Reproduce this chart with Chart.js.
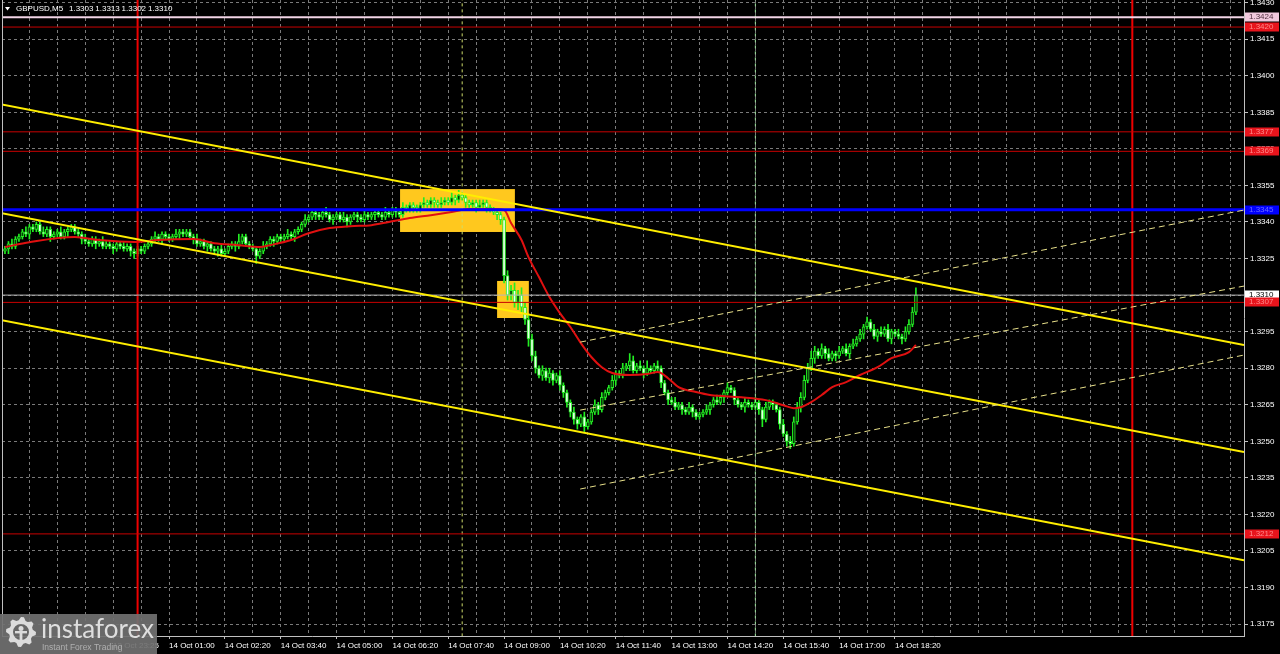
<!DOCTYPE html>
<html>
<head>
<meta charset="utf-8">
<script src="https://cdn.jsdelivr.net/npm/chart.js@4.4.1/dist/chart.umd.min.js"></script>
<style>
  html, body { margin: 0; padding: 0; background: #000; }
  #wrap { width: 1280px; height: 654px; }
</style>
</head>
<body>
<div id="wrap"><canvas id="chart" width="1280" height="654"></canvas></div>
<script>
// Symbol header
const symbolName = "GBPUSD,M5";
const lastBarOHLC = ["1.3303", "1.3313", "1.3302", "1.3310"];

// Candles: prices are pips above 1.3200, one entry per M5 bar
const basePrice = 1.32;
const firstOpen = 128;
const closes = [
  129, 131, 130, 133, 134, 136, 135, 138, 137, 139,
  136, 135, 137, 134, 135, 136, 134, 136, 137, 138,
  136, 135, 133, 132, 131, 133, 131, 132, 130, 131,
  130, 129, 131, 130, 129, 130, 128, 127, 129, 128,
  130, 131, 133, 134, 133, 135, 134, 133, 134, 135,
  136, 135, 136, 134, 133, 131, 132, 130, 131, 129,
  128, 129, 127, 128, 130, 131, 130, 132, 134, 131,
  130, 129, 126, 128, 130, 131, 133, 132, 134, 133,
  134, 135, 134, 136, 137, 139, 141, 142, 144, 143,
  142, 144, 143, 141, 142, 143, 141, 142, 140, 142,
  143, 142, 141, 143, 142, 143, 144, 143, 142, 144,
  143, 145, 144, 143, 146, 145, 147, 146, 145, 147,
  148, 147, 149, 148, 147, 148, 149, 148, 150, 149,
  151, 150, 148, 147, 148, 146, 147, 148, 146, 145,
  144, 143, 141, 118, 110, 112, 107, 110, 105, 100,
  92, 85, 80, 77, 79, 76, 78, 75, 77, 73,
  70, 66, 62, 59, 57, 60, 56, 58, 62, 65,
  63, 68, 70, 72, 75, 78, 77, 80, 81, 83,
  79, 81, 80, 78, 80, 79, 81, 80, 74, 70,
  67, 66, 64, 65, 63, 62, 64, 62, 60, 61,
  62, 63, 65, 67, 66, 68, 70, 72, 71, 67,
  65, 64, 66, 65, 64, 66, 63, 59, 64, 66,
  65, 63, 57, 53, 50, 49, 58, 64, 68, 75,
  80, 84, 87, 85, 88, 86, 84, 86, 85, 87,
  88, 86, 89, 90, 92, 94, 97, 99, 96, 93,
  95, 94, 96, 92, 95, 94, 93, 92, 95, 98,
  103, 110
];
const wickUp = [
  1, 1, 2, 1, 1, 1, 2, 1, 1, 1,
  1, 2, 1, 1, 1, 1, 2, 1, 1, 1,
  1, 1, 1, 2, 1, 1, 1, 1, 2, 1,
  1, 1, 1, 1, 2, 1, 1, 1, 1, 1,
  1, 1, 1, 2, 1, 1, 1, 1, 1, 2,
  1, 1, 1, 1, 1, 2, 1, 1, 1, 1,
  1, 1, 2, 1, 1, 1, 1, 3, 1, 1,
  1, 1, 1, 1, 2, 1, 1, 1, 1, 1,
  1, 2, 1, 1, 1, 1, 2, 1, 1, 1,
  1, 1, 2, 1, 1, 1, 1, 2, 1, 1,
  1, 1, 1, 2, 1, 1, 1, 1, 1, 2,
  1, 1, 1, 1, 2, 1, 1, 1, 1, 1,
  2, 1, 1, 1, 1, 2, 1, 1, 2, 1,
  2, 1, 1, 1, 1, 1, 2, 1, 1, 1,
  1, 1, 1, 1, 2, 2, 3, 2, 3, 2,
  2, 2, 2, 1, 2, 1, 2, 1, 1, 2,
  1, 1, 1, 2, 1, 1, 2, 1, 1, 2,
  1, 2, 1, 1, 2, 1, 1, 2, 1, 3,
  2, 1, 2, 1, 3, 1, 1, 2, 1, 1,
  1, 1, 2, 1, 1, 1, 2, 1, 1, 1,
  1, 2, 1, 1, 2, 1, 1, 2, 1, 1,
  1, 1, 2, 1, 1, 2, 1, 1, 2, 1,
  1, 1, 1, 2, 1, 2, 2, 2, 2, 2,
  2, 3, 2, 1, 2, 1, 2, 1, 1, 2,
  1, 2, 1, 2, 1, 2, 1, 2, 1, 2,
  1, 2, 1, 2, 1, 1, 2, 1, 2, 2,
  2, 3
];
const wickDn = [
  1, 2, 1, 1, 1, 1, 1, 2, 1, 1,
  1, 1, 1, 2, 1, 1, 1, 1, 2, 1,
  1, 1, 2, 1, 1, 1, 2, 1, 1, 1,
  1, 2, 1, 1, 1, 1, 2, 2, 1, 1,
  1, 1, 1, 1, 1, 2, 1, 1, 1, 1,
  2, 1, 1, 1, 2, 1, 1, 1, 2, 1,
  1, 2, 1, 1, 1, 1, 2, 1, 1, 1,
  1, 1, 3, 1, 1, 1, 1, 2, 1, 1,
  1, 1, 1, 2, 1, 1, 1, 1, 1, 2,
  1, 1, 1, 1, 2, 1, 1, 1, 2, 1,
  1, 2, 1, 1, 1, 1, 2, 1, 1, 1,
  1, 1, 2, 1, 1, 1, 1, 2, 1, 1,
  1, 1, 1, 2, 1, 1, 1, 1, 1, 2,
  1, 1, 2, 1, 1, 2, 1, 1, 2, 1,
  1, 2, 2, 3, 2, 2, 2, 3, 2, 2,
  3, 2, 2, 1, 2, 1, 2, 2, 1, 2,
  2, 2, 2, 2, 2, 1, 2, 1, 1, 1,
  2, 1, 1, 1, 1, 2, 1, 1, 1, 2,
  1, 1, 1, 2, 1, 1, 1, 1, 2, 1,
  2, 1, 1, 1, 2, 1, 1, 2, 1, 1,
  1, 1, 2, 1, 1, 1, 2, 1, 1, 2,
  1, 1, 2, 1, 1, 1, 2, 3, 1, 1,
  2, 1, 2, 1, 2, 2, 1, 1, 2, 1,
  1, 1, 2, 1, 1, 2, 1, 1, 2, 1,
  1, 1, 2, 1, 1, 1, 2, 1, 1, 1,
  2, 1, 1, 1, 2, 1, 1, 2, 1, 1,
  1, 1
];

// Moving average (bar number, pips above 1.3200)
const maBars = [
  0, 7, 20, 27, 37, 44, 54, 60, 67, 73,
  76, 82, 87, 93, 99, 105, 110, 116, 122, 128,
  133, 139, 143, 145, 148, 150, 153, 156, 159, 162,
  165, 168, 171, 174, 179, 184, 187, 190, 193, 198,
  202, 211, 218, 223, 226, 228, 231, 234, 237, 241,
  245, 250, 254, 259, 261
];
const maValues = [
  129.7, 131.7, 133.8, 132.6, 131.8, 132.6, 133.0, 131.3, 130.5, 129.7,
  130.5, 132.6, 135.4, 137.5, 138.3, 138.7, 140.0, 141.6, 142.8, 144.1,
  145.3, 145.3, 144.9, 139.6, 132.6, 125.6, 117.4, 109.2, 102.6, 96.9,
  90.3, 84.6, 80.4, 78.0, 77.2, 77.6, 78.4, 75.9, 72.2, 70.2,
  69.0, 68.1, 66.9, 64.8, 63.6, 64.0, 66.1, 69.0, 72.2, 74.3,
  77.2, 80.4, 84.1, 86.6, 89.5
];

// Axes
const timeLabels = [
  "13 Oct 23:25", "14 Oct 01:00", "14 Oct 02:20", "14 Oct 03:40", "14 Oct 05:00",
  "14 Oct 06:20", "14 Oct 07:40", "14 Oct 09:00", "14 Oct 10:20", "14 Oct 11:40",
  "14 Oct 13:00", "14 Oct 14:20", "14 Oct 15:40", "14 Oct 17:00", "14 Oct 18:20"
];
const timeLabelBars = [31, 47, 63, 79, 95, 111, 127, 143, 159, 175, 191, 207, 223, 239, 255];
const priceTicks = [
  1.3175, 1.3190, 1.3205, 1.3220, 1.3235, 1.3250, 1.3265, 1.3280, 1.3295,
  1.3310, 1.3325, 1.3340, 1.3355, 1.3370, 1.3385, 1.3400, 1.3415, 1.3430
];

// Horizontal levels
const pinkLevel = 1.3424;
const redLevels = [1.3420, 1.3377, 1.3369, 1.3307, 1.3212];
const blueLevel = 1.3345;
const bidPrice = 1.3310;

// Price channel (solid) and regression channel (dashed): [start, end] prices
const channelBars = [-1.4, 355];
const channelStart = [1.33884, 1.33437, 1.32998];
const channelEnd = [1.32895, 1.32456, 1.32012];
const regressionBars = [164.8, 355];
const regressionStart = [1.32907, 1.32628, 1.32304];
const regressionEnd = [1.33449, 1.33137, 1.32854];

// Vertical markers (bar numbers)
const dayLines = [38, 323];
const sessionLines = [131, 215];

// Highlighted zones
const zoneFrom = [113.2, 141.0];
const zoneTo = [146.1, 150.1];
const zoneHigh = [1.33535, 1.33158];
const zoneLow = [1.33359, 1.33006];

// ---- build datasets ----
const toPrice = p => basePrice + p * 0.0001;
const xMin = -0.85, xMax = 355;
const yMin = 1.31701, yMax = 1.34311;

const bodies = [], wicks = [], bodyFill = [];
closes.forEach((c, i) => {
  const o = i === 0 ? firstOpen : closes[i - 1];
  const hi = Math.max(o, c) + wickUp[i];
  const lo = Math.min(o, c) - wickDn[i];
  bodies.push({ x: i, y: [toPrice(o), toPrice(c)] });
  wicks.push({ x: i, y: [toPrice(lo), toPrice(hi)] });
  bodyFill.push(c >= o ? "#0a3a0a" : "#e8ffe8");
});

const maPoints = maBars.map((b, i) => ({ x: b, y: toPrice(maValues[i]) }));

function lineSet(points, color, width, order, dash) {
  return {
    type: "line", data: points, borderColor: color, borderWidth: width,
    borderDash: dash || [], pointRadius: 0, fill: false, tension: 0, order: order
  };
}
function hLine(price, color, width) {
  return lineSet([{ x: xMin - 5, y: price }, { x: xMax + 5, y: price }], color, width, 3);
}
function vLine(bar, color, width, dash) {
  return lineSet([{ x: bar, y: yMin - 0.001 }, { x: bar, y: yMax + 0.001 }], color, width, 4, dash);
}

const datasets = [];
regressionStart.forEach((p, i) => {
  datasets.push(lineSet([{ x: regressionBars[0], y: p }, { x: regressionBars[1], y: regressionEnd[i] }],
    "#e8e08a", 1, 1, [6, 4]));
});
channelStart.forEach((p, i) => {
  datasets.push(lineSet([{ x: channelBars[0], y: p }, { x: channelBars[1], y: channelEnd[i] }],
    "#ffee00", 2, 2));
});
datasets.push(hLine(pinkLevel, "#f2d4e6", 2));
redLevels.forEach(p => datasets.push(hLine(p, "#c80000", 1)));
datasets.push(hLine(blueLevel, "#0000ff", 3));
datasets.push(hLine(bidPrice, "#b8b8b8", 1));
dayLines.forEach(b => datasets.push(vLine(b, "#ee0000", 2)));
datasets.push(vLine(sessionLines[0], "#cfdc6a", 1, [3, 3]));
datasets.push(vLine(sessionLines[1], "#a8eea8", 1, [3, 3]));

datasets.push({
  type: "line", data: maPoints, borderColor: "#e01010", borderWidth: 2,
  pointRadius: 0, fill: false, cubicInterpolationMode: "monotone", order: 5
});
datasets.push({
  type: "bar", data: bodies, backgroundColor: bodyFill, borderColor: "#22ee22",
  borderWidth: 1, borderSkipped: false, barThickness: 3, grouped: false, order: 6
});
datasets.push({
  type: "bar", data: wicks, backgroundColor: "#22ee22", borderWidth: 0,
  barThickness: 1, grouped: false, order: 7
});

// ---- drawing helpers ----
const labelFont = "8px 'Liberation Sans', Arial, sans-serif";
const gridColor = "#7a7a7a";
const frameColor = "#c0c0c0";

function priceTag(ctx, yPix, text, bg, fg) {
  ctx.fillStyle = bg;
  ctx.fillRect(1245, Math.round(yPix) - 4.5, 34, 9);
  ctx.fillStyle = fg;
  ctx.fillText(text, 1249, Math.round(yPix));
}

function drawGear(ctx, cx, cy) {
  ctx.save();
  ctx.fillStyle = "#dcdcdc";
  ctx.beginPath();
  for (let i = 0; i < 16; i++) {
    const a = (i / 16) * Math.PI * 2;
    const r = i % 2 === 0 ? 15 : 12;
    const a2 = a + Math.PI / 16;
    ctx.lineTo(cx + r * Math.cos(a), cy + r * Math.sin(a));
    ctx.lineTo(cx + r * Math.cos(a2), cy + r * Math.sin(a2));
  }
  ctx.closePath();
  ctx.arc(cx, cy, 8, 0, Math.PI * 2, true);
  ctx.fill("evenodd");
  ctx.beginPath();
  ctx.arc(cx, cy - 3.5, 2.5, 0, Math.PI * 2);
  ctx.fill();
  ctx.fillRect(cx - 1.4, cy - 1, 2.8, 12);
  ctx.fillRect(cx - 6, cy - 1, 12, 2.4);
  ctx.restore();
}

const overlay = {
  id: "overlay",
  beforeDatasetsDraw(chart) {
    const { ctx, chartArea: a, scales: { x, y } } = chart;
    ctx.save();
    ctx.beginPath();
    ctx.rect(a.left, a.top, a.right - a.left, a.bottom - a.top);
    ctx.clip();
    ctx.fillStyle = "#ffc81e";
    zoneFrom.forEach((b, i) => {
      const x0 = x.getPixelForValue(b), x1 = x.getPixelForValue(zoneTo[i]);
      const y0 = y.getPixelForValue(zoneHigh[i]), y1 = y.getPixelForValue(zoneLow[i]);
      ctx.fillRect(x0, y0, x1 - x0, y1 - y0);
    });
    ctx.restore();
  },
  afterDraw(chart) {
    const { ctx, chartArea: a, scales: { y } } = chart;
    ctx.save();
    // left frame
    ctx.strokeStyle = frameColor;
    ctx.lineWidth = 1;
    ctx.beginPath();
    ctx.moveTo(a.left + 0.5, a.top);
    ctx.lineTo(a.left + 0.5, a.bottom);
    ctx.stroke();

    // price tags on the right axis
    ctx.font = labelFont;
    ctx.textBaseline = "middle";
    ctx.textAlign = "left";
    priceTag(ctx, y.getPixelForValue(pinkLevel), pinkLevel.toFixed(4), "#f0c8dc", "#503040");
    priceTag(ctx, y.getPixelForValue(redLevels[0]), redLevels[0].toFixed(4), "#e8141c", "#ff8a8a");
    priceTag(ctx, y.getPixelForValue(redLevels[1]), redLevels[1].toFixed(4), "#e8141c", "#ff8a8a");
    priceTag(ctx, y.getPixelForValue(redLevels[2]), redLevels[2].toFixed(4), "#e8141c", "#ff8a8a");
    priceTag(ctx, y.getPixelForValue(blueLevel), blueLevel.toFixed(4), "#0000ff", "#6a6aff");
    priceTag(ctx, y.getPixelForValue(bidPrice), bidPrice.toFixed(4), "#ffffff", "#000000");
    priceTag(ctx, y.getPixelForValue(redLevels[3]), redLevels[3].toFixed(4), "#e8141c", "#ff8a8a");
    priceTag(ctx, y.getPixelForValue(redLevels[4]), redLevels[4].toFixed(4), "#e8141c", "#ff8a8a");

    // header
    ctx.fillStyle = "#ffffff";
    ctx.beginPath();
    ctx.moveTo(5, 7); ctx.lineTo(10, 7); ctx.lineTo(7.5, 10.5); ctx.closePath();
    ctx.fill();
    ctx.fillText(symbolName, 16, 9);
    lastBarOHLC.forEach((v, i) => ctx.fillText(v, 69 + i * 26.3, 9));

    // broker logo
    ctx.fillStyle = "rgba(112,112,112,0.93)";
    ctx.fillRect(0, 614, 157, 40);
    drawGear(ctx, 21, 632);
    ctx.fillStyle = "#dedede";
    ctx.font = "26px Lato, 'Open Sans', sans-serif";
    ctx.textBaseline = "alphabetic";
    ctx.fillText("instaforex", 41, 638);
    ctx.fillStyle = "#b0b0b0";
    ctx.font = "8.5px 'Liberation Sans', Arial, sans-serif";
    ctx.fillText("Instant Forex Trading", 42, 650);
    ctx.restore();
  }
};

new Chart(document.getElementById("chart"), {
  type: "line",
  data: { datasets: datasets },
  options: {
    responsive: false,
    devicePixelRatio: 1,
    animation: false,
    events: [],
    layout: { padding: { left: 2, top: 0, right: 0, bottom: 0 } },
    plugins: { legend: { display: false }, tooltip: { enabled: false } },
    scales: {
      x: {
        type: "linear", min: xMin, max: xMax, offset: false,
        afterBuildTicks: s => {
          const t = [];
          for (let b = 7; b <= 351; b += 8) t.push({ value: b });
          s.ticks = t;
        },
        afterFit: s => { s.height = 18; s.paddingLeft = 0; s.paddingRight = 0; },
        ticks: {
          color: "#ffffff", font: { family: "'Liberation Sans', Arial, sans-serif", size: 8 },
          align: "start", autoSkip: false, maxRotation: 0, minRotation: 0, padding: 2,
          callback: v => {
            const i = timeLabelBars.indexOf(v);
            return i >= 0 ? timeLabels[i] : "";
          }
        },
        grid: {
          offset: false, color: gridColor, lineWidth: 1, tickLength: 3,
          tickColor: c => (c.tick && timeLabelBars.includes(c.tick.value) ? frameColor : "rgba(0,0,0,0)")
        },
        border: { color: frameColor, width: 1, dash: [3, 3] }
      },
      y: {
        type: "linear", position: "right", min: yMin, max: yMax, beginAtZero: false,
        afterBuildTicks: s => { s.ticks = priceTicks.map(v => ({ value: v })); },
        afterFit: s => { s.width = 36; s.paddingTop = 0; s.paddingBottom = 0; },
        ticks: {
          color: "#ffffff", font: { family: "'Liberation Sans', Arial, sans-serif", size: 8 },
          padding: 2, callback: v => v.toFixed(4)
        },
        grid: { color: gridColor, lineWidth: 1, tickLength: 4, tickColor: frameColor },
        border: { color: frameColor, width: 1, dash: [3, 3] }
      }
    }
  },
  plugins: [overlay]
});
</script>
</body>
</html>
